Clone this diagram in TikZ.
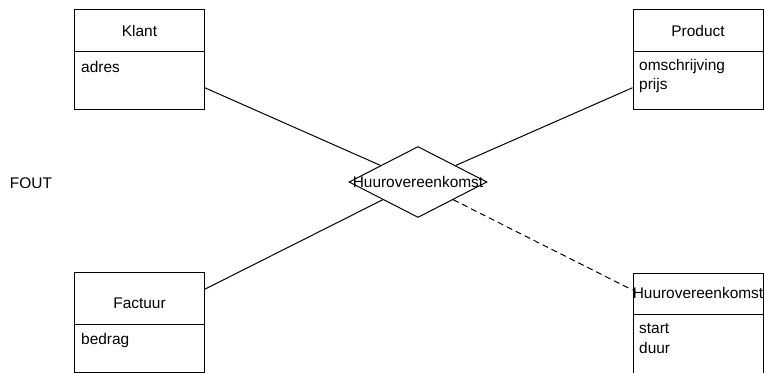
\documentclass[tikz,border=0pt]{standalone}
\usepackage{fontspec}
\setmainfont{Liberation Sans}
\usetikzlibrary{shapes.geometric}
\begin{document}
\begin{tikzpicture}[x=1bp,y=-1bp,
  every node/.style={font=\fontsize{15.5}{18}\selectfont},
  entity/.style={draw, line width=1bp, rectangle, inner sep=0pt, minimum width=130bp, minimum height=100bp},
  sep/.style={line width=1bp},
  title/.style={inner sep=0pt, anchor=center},
  attr/.style={inner sep=0pt, anchor=west},
  relation/.style={draw, line width=1bp, diamond, inner sep=0pt, minimum width=138bp, minimum height=71bp},
  link/.style={line width=1bp},
  optlink/.style={line width=1bp, dashed, dash pattern=on 6bp off 4bp}]
\useasboundingbox (0,0) rectangle (764,372);

% entity boxes
\node[entity] (klant) at (139.5,59) {};
\node[entity] (product) at (698,59) {};
\node[entity] (factuur) at (139.5,322) {};
\node[entity] (huur) at (698,323) {};

% relationship
\node[relation] (rel) at (418,182) {};

% connectors
\draw[link] (klant) -- (rel);
\draw[link] (product) -- (rel);
\draw[link] (factuur) -- (rel);
\draw[optlink] (rel) -- (huur);

% separators between name and attributes
\draw[sep] (74.5,51) -- (204.5,51);
\draw[sep] (633,51) -- (763,51);
\draw[sep] (74.5,324) -- (204.5,324);
\draw[sep] (633,314) -- (763,314);

% labels
\node[title] (klantname) at (139.5,31) {Klant};
\node[attr] (klantadres) at (81,67) {adres};

\node[title] (productname) at (698,31) {Product};
\node[attr] (productoms) at (639,67) {omschrijving};
\node[attr] (productprijs) at (639,86) {prijs};

\node[title] (factuurname) at (139.5,303) {Factuur};
\node[attr] (factuurbedrag) at (81,340) {bedrag};

\node[title] (huurname) at (698,293) {Huurovereenkomst};
\node[attr] (huurstart) at (639,329) {start};
\node[attr] (huurduur) at (639,348) {duur};

\node[title] (relname) at (rel.center) {Huurovereenkomst};

\node[title] (fout) at (31,183) {FOUT};
\end{tikzpicture}
\end{document}
